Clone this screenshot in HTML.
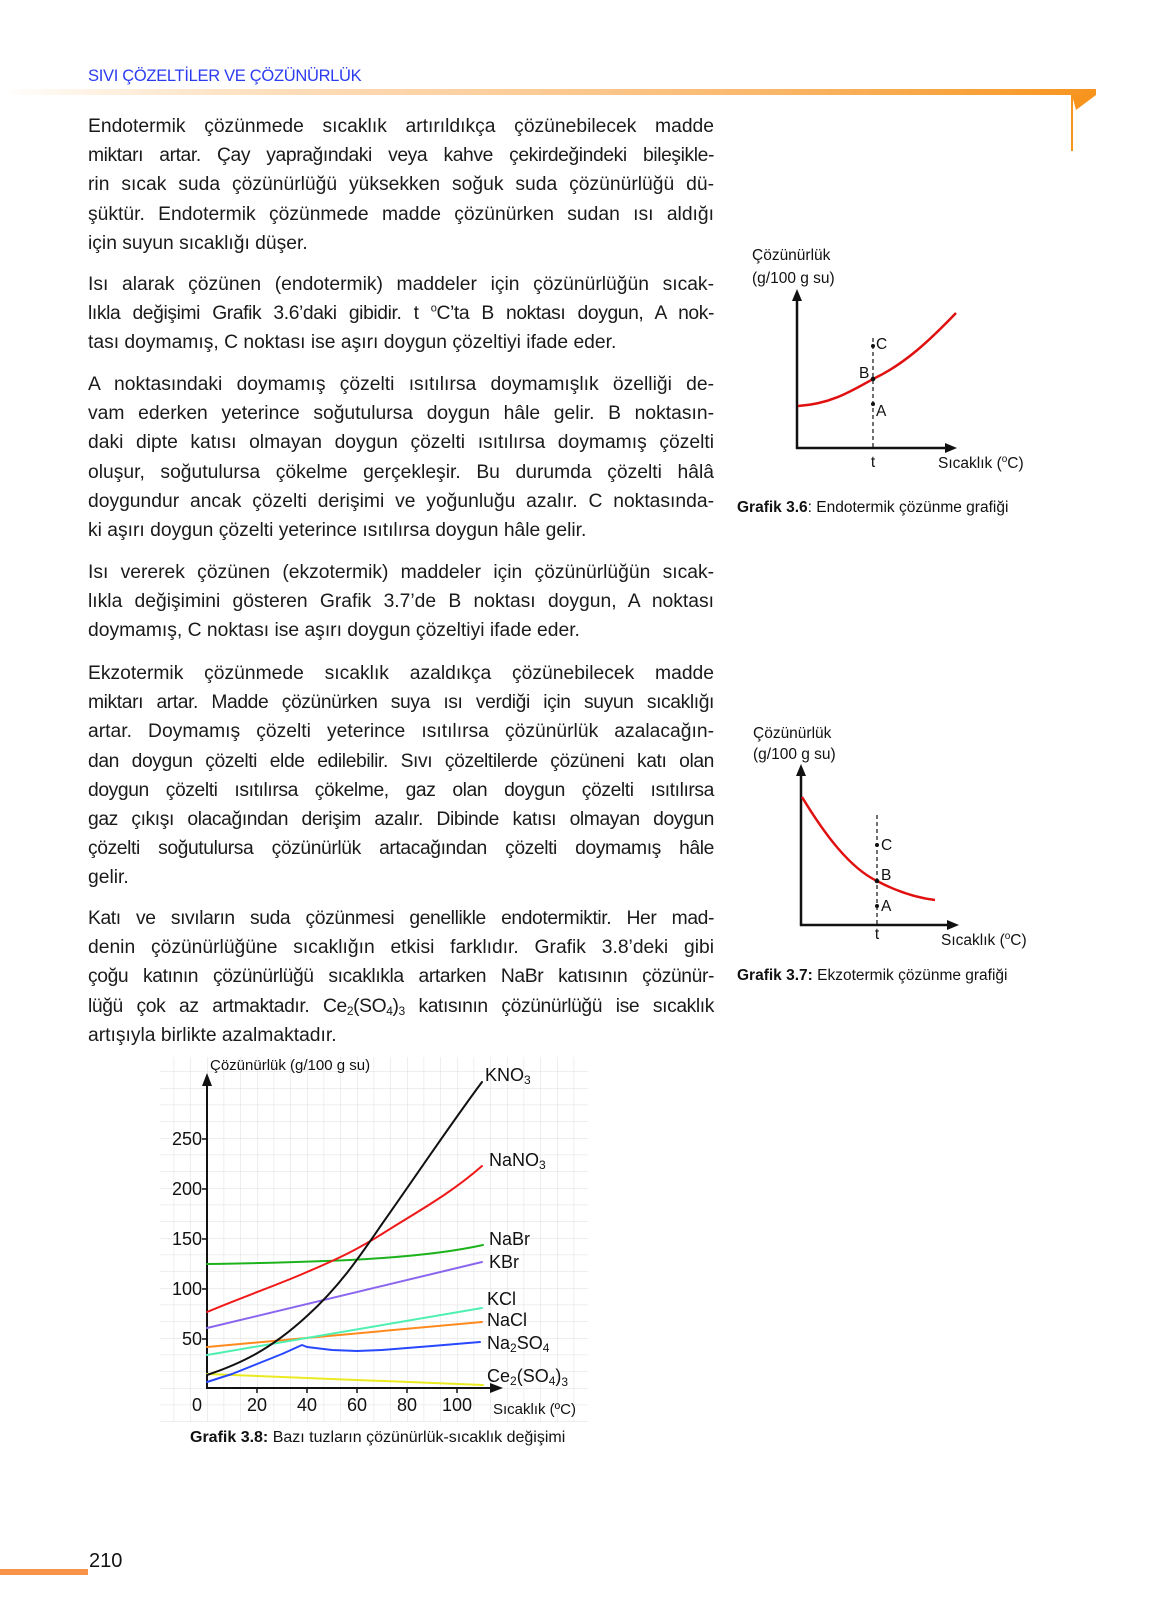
<!DOCTYPE html>
<html><head><meta charset="utf-8">
<style>
html,body{margin:0;padding:0;background:#fff;}
body{width:1152px;height:1624px;position:relative;overflow:hidden;font-family:"Liberation Sans",Arial,sans-serif;color:#1a1a1a;}
.p{position:absolute;left:88px;width:626px;font-size:19.3px;line-height:29.2px;letter-spacing:0px;}
.p div{white-space:nowrap;text-align:justify;text-align-last:justify;}
.p div.l{text-align-last:left;}
.p div.c{letter-spacing:-0.4px;}
.hd{position:absolute;left:88px;top:67px;font-size:16.5px;color:#2b3bf0;letter-spacing:-0.3px;}
sub{font-size:12px;vertical-align:-3px;line-height:0;}
sup{font-size:11px;line-height:0;}
svg{position:absolute;left:0;top:0;}
</style></head><body>
<div class="hd">SIVI ÇÖZELTİLER VE ÇÖZÜNÜRLÜK</div>

<div class="p" style="top:112px">
<div>Endotermik çözünmede sıcaklık artırıldıkça çözünebilecek madde</div>
<div class="c">miktarı artar. Çay yaprağındaki veya kahve çekirdeğindeki bileşikle-</div>
<div>rin sıcak suda çözünürlüğü yüksekken soğuk suda çözünürlüğü dü-</div>
<div>şüktür. Endotermik çözünmede madde çözünürken sudan ısı aldığı</div>
<div class="l">için suyun sıcaklığı düşer.</div>
</div>
<div class="p" style="top:270px">
<div>Isı alarak çözünen (endotermik) maddeler için çözünürlüğün sıcak-</div>
<div class="c">lıkla değişimi Grafik 3.6’daki gibidir. t <sup>o</sup>C’ta B noktası doygun, A nok-</div>
<div class="l">tası doymamış, C noktası ise aşırı doygun çözeltiyi ifade eder.</div>
</div>
<div class="p" style="top:370px">
<div>A noktasındaki doymamış çözelti ısıtılırsa doymamışlık özelliği de-</div>
<div>vam ederken yeterince soğutulursa doygun hâle gelir. B noktasın-</div>
<div>daki dipte katısı olmayan doygun çözelti ısıtılırsa doymamış çözelti</div>
<div>oluşur, soğutulursa çökelme gerçekleşir. Bu durumda çözelti hâlâ</div>
<div>doygundur ancak çözelti derişimi ve yoğunluğu azalır. C noktasında-</div>
<div class="l">ki aşırı doygun çözelti yeterince ısıtılırsa doygun hâle gelir.</div>
</div>
<div class="p" style="top:558px">
<div>Isı vererek çözünen (ekzotermik) maddeler için çözünürlüğün sıcak-</div>
<div>lıkla değişimini gösteren Grafik 3.7’de B noktası doygun, A noktası</div>
<div class="l">doymamış, C noktası ise aşırı doygun çözeltiyi ifade eder.</div>
</div>
<div class="p" style="top:659px">
<div>Ekzotermik çözünmede sıcaklık azaldıkça çözünebilecek madde</div>
<div class="c">miktarı artar. Madde çözünürken suya ısı verdiği için suyun sıcaklığı</div>
<div>artar. Doymamış çözelti yeterince ısıtılırsa çözünürlük azalacağın-</div>
<div class="c">dan doygun çözelti elde edilebilir. Sıvı çözeltilerde çözüneni katı olan</div>
<div class="c">doygun çözelti ısıtılırsa çökelme, gaz olan doygun çözelti ısıtılırsa</div>
<div class="c">gaz çıkışı olacağından derişim azalır. Dibinde katısı olmayan doygun</div>
<div class="c">çözelti soğutulursa çözünürlük artacağından çözelti doymamış hâle</div>
<div class="l">gelir.</div>
</div>
<div class="p" style="top:904px">
<div class="c">Katı ve sıvıların suda çözünmesi genellikle endotermiktir. Her mad-</div>
<div>denin çözünürlüğüne sıcaklığın etkisi farklıdır. Grafik 3.8’deki gibi</div>
<div class="c">çoğu katının çözünürlüğü sıcaklıkla artarken NaBr katısının çözünür-</div>
<div class="c">lüğü çok az artmaktadır. Ce<sub>2</sub>(SO<sub>4</sub>)<sub>3</sub> katısının çözünürlüğü ise sıcaklık</div>
<div class="l">artışıyla birlikte azalmaktadır.</div>
</div>

<svg width="1152" height="1624" viewBox="0 0 1152 1624" font-family="Liberation Sans, Arial, sans-serif">
<defs>
<linearGradient id="og" x1="0" x2="1" y1="0" y2="0">
<stop offset="0" stop-color="#f7941d" stop-opacity="0"/>
<stop offset="0.4" stop-color="#f9b56a" stop-opacity="0.6"/>
<stop offset="1" stop-color="#f7941d"/>
</linearGradient>
<pattern id="grid" x="0" y="1388" width="16.667" height="16.667" patternUnits="userSpaceOnUse" patternTransform="translate(207 0)">
<path d="M0 0H16.667M0 0V16.667" stroke="#dcdcdc" stroke-width="1" fill="none"/>
</pattern>
</defs>
<rect x="0" y="89" width="1096" height="6" fill="url(#og)"/>
<polygon points="1072,95 1096,95 1076,110" fill="#f7941d"/>
<rect x="1071" y="95" width="2" height="56" fill="#f7941d"/>
<rect x="0" y="1569" width="88" height="6" fill="#f7944a"/>
<text x="89" y="1567" font-size="20" fill="#111">210</text>

<g fill="#111">
<text x="752" y="260" font-size="15.5">Çözünürlük</text>
<text x="752" y="283" font-size="15.5">(g/100 g su)</text>
<line x1="797" y1="298" x2="797" y2="449" stroke="#111" stroke-width="2.5"/>
<polygon points="797,289 792,301 802,301"/>
<line x1="796" y1="448" x2="948" y2="448" stroke="#111" stroke-width="2.5"/>
<polygon points="957,448 945,443 945,453"/>
<line x1="873" y1="338" x2="873" y2="448" stroke="#111" stroke-width="1.2" stroke-dasharray="4,3"/>
<path d="M798 406 C830 404 850 392 873 379 C905 364 930 340 956 313" stroke="#e01010" stroke-width="2.5" fill="none"/>
<circle cx="873" cy="346" r="2"/><circle cx="873" cy="379" r="2.3"/><circle cx="873" cy="404" r="2"/>
<text x="876" y="349" font-size="15.5">C</text>
<text x="859" y="378" font-size="15.5">B</text>
<text x="876" y="416" font-size="15.5">A</text>
<text x="873" y="467" font-size="15.5" text-anchor="middle">t</text>
<text x="938" y="468" font-size="15.5">Sıcaklık (<tspan font-size="10" dy="-6">o</tspan><tspan dy="6">C)</tspan></text>
<text x="737" y="512" font-size="15.5"><tspan font-weight="bold">Grafik 3.6</tspan>: Endotermik çözünme grafiği</text>
</g>

<g fill="#111">
<text x="753" y="738" font-size="15.5">Çözünürlük</text>
<text x="753" y="759" font-size="15.5">(g/100 g su)</text>
<line x1="801" y1="773" x2="801" y2="926" stroke="#111" stroke-width="2.5"/>
<polygon points="801,764 796,776 806,776"/>
<line x1="800" y1="925" x2="950" y2="925" stroke="#111" stroke-width="2.5"/>
<polygon points="959,925 947,920 947,930"/>
<line x1="877" y1="815" x2="877" y2="925" stroke="#111" stroke-width="1.2" stroke-dasharray="4,3"/>
<path d="M802 797 C825 835 850 868 877 881 C900 893 918 898 935 900" stroke="#e01010" stroke-width="2.5" fill="none"/>
<circle cx="877" cy="845" r="2"/><circle cx="877" cy="881" r="2.3"/><circle cx="877" cy="906" r="2"/>
<text x="881" y="850" font-size="15.5">C</text>
<text x="881" y="880" font-size="15.5">B</text>
<text x="881" y="911" font-size="15.5">A</text>
<text x="877" y="939" font-size="15.5" text-anchor="middle">t</text>
<text x="941" y="945" font-size="15.5">Sıcaklık (<tspan font-size="10" dy="-6">o</tspan><tspan dy="6">C)</tspan></text>
<text x="737" y="980" font-size="15.5"><tspan font-weight="bold">Grafik 3.7:</tspan> Ekzotermik çözünme grafiği</text>
</g>

<rect x="160" y="1057" width="428" height="365" fill="url(#grid)"/>
<g fill="#111">
<text x="210" y="1070" font-size="15">Çözünürlük (g/100 g su)</text>
<line x1="207" y1="1082" x2="207" y2="1389" stroke="#111" stroke-width="2"/>
<polygon points="207,1073 202,1086 212,1086"/>
<line x1="206" y1="1388" x2="492" y2="1388" stroke="#111" stroke-width="2"/>
<polygon points="503,1388 490,1383 490,1393"/>
<g stroke="#111" stroke-width="1.5">
<line x1="202" y1="1139" x2="207" y2="1139"/><line x1="202" y1="1189" x2="207" y2="1189"/>
<line x1="202" y1="1239" x2="207" y2="1239"/><line x1="202" y1="1289" x2="207" y2="1289"/>
<line x1="202" y1="1339" x2="207" y2="1339"/>
<line x1="257" y1="1388" x2="257" y2="1393"/><line x1="307" y1="1388" x2="307" y2="1393"/>
<line x1="357" y1="1388" x2="357" y2="1393"/><line x1="407" y1="1388" x2="407" y2="1393"/>
<line x1="457" y1="1388" x2="457" y2="1393"/>
</g>
<g font-size="18" text-anchor="end">
<text x="202" y="1145">250</text><text x="202" y="1195">200</text><text x="202" y="1245">150</text>
<text x="202" y="1295">100</text><text x="202" y="1345">50</text>
</g>
<g font-size="18" text-anchor="middle">
<text x="197" y="1411">0</text><text x="257" y="1411">20</text><text x="307" y="1411">40</text>
<text x="357" y="1411">60</text><text x="407" y="1411">80</text><text x="457" y="1411">100</text>
</g>
<text x="493" y="1414" font-size="15">Sıcaklık (ºC)</text>
<text x="190" y="1442" font-size="16"><tspan font-weight="bold">Grafik 3.8:</tspan> Bazı tuzların çözünürlük-sıcaklık değişimi</text>
<g font-size="18">
<text x="485" y="1081">KNO<tspan font-size="12" dy="3">3</tspan></text>
<text x="489" y="1166">NaNO<tspan font-size="12" dy="3">3</tspan></text>
<text x="489" y="1245">NaBr</text>
<text x="489" y="1268">KBr</text>
<text x="487" y="1305">KCl</text>
<text x="487" y="1326">NaCl</text>
<text x="487" y="1349">Na<tspan font-size="12" dy="3">2</tspan><tspan dy="-3">SO</tspan><tspan font-size="12" dy="3">4</tspan></text>
<text x="487" y="1382">Ce<tspan font-size="12" dy="3">2</tspan><tspan dy="-3">(SO</tspan><tspan font-size="12" dy="3">4</tspan><tspan dy="-3">)</tspan><tspan font-size="12" dy="4">3</tspan></text>
</g>
</g>
<g fill="none" stroke-width="2" stroke-linejoin="round" stroke-linecap="round">
<polyline stroke="#eaea20" points="207,1374 483,1385"/>
<polyline stroke="#ff8a1e" points="207,1347 482,1322"/>
<polyline stroke="#4ef0b0" points="207,1355 482,1308"/>
<polyline stroke="#8a66ee" points="207,1328 482,1262"/>
<path stroke="#1db31d" d="M207 1264 C330 1262 420 1259 483 1245"/>
<polyline stroke="#2848ff" points="207,1382 232,1374 257,1364 282,1354 302,1345 307,1347 332,1350 357,1351 382,1350 407,1348 432,1346 480,1342"/>
<path stroke="#f01818" d="M207 1312 C240 1298 280 1284 307 1272 C340 1258 360 1248 382 1234 C420 1210 450 1194 482 1166"/>
<path stroke="#111" d="M207 1375 C240 1364 270 1350 307 1316 C340 1286 360 1256 382 1224 C420 1170 450 1125 482 1082"/>
</g>
</svg>
</body></html>
